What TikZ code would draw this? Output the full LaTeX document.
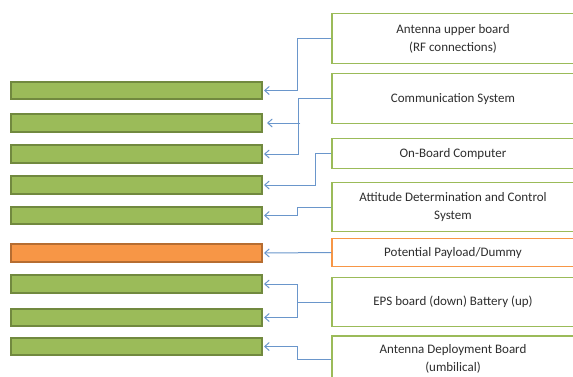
\documentclass[tikz,border=0pt]{standalone}
\usepackage{fontspec}
\setmainfont{Carlito}
\usetikzlibrary{arrows.meta}

\definecolor{barfill}{HTML}{9BBB59}
\definecolor{bardraw}{HTML}{71893F}
\definecolor{payfill}{HTML}{F79646}
\definecolor{paydraw}{HTML}{B66D31}
\definecolor{linkblue}{HTML}{6A96CB}
\definecolor{txt}{HTML}{2E2E2E}

\begin{document}
\begin{tikzpicture}[x=1pt,y=-1pt,>={Straight Barb[length=4.5pt,width=8pt]},shorten >=1pt,
    bar/.style={rectangle,draw=bardraw,fill=barfill,line width=2pt,
      minimum width=251pt,minimum height=17.5pt,inner sep=0pt},
    paybar/.style={bar,draw=paydraw,fill=payfill},
    board/.style={rectangle,draw=barfill,fill=white,line width=1.5pt,
      minimum width=242pt,inner sep=0pt,align=center,text=txt,
      font=\fontsize{13}{18}\selectfont},
    payboard/.style={board,draw=payfill},
    link/.style={draw=linkblue,line width=1pt}]

    \useasboundingbox (0,0) rectangle (573,376);

    % stack of boards on the left
    \node[bar] (b1) at (136.5,90.5) {};
    \node[bar] (b2) at (136.5,123) {};
    \node[bar] (b3) at (136.5,154) {};
    \node[bar] (b4) at (136.5,185) {};
    \node[bar] (b5) at (136.5,215.5) {};
    \node[paybar] (b6) at (136.5,253) {};
    \node[bar] (b7) at (136.5,284) {};
    \node[bar] (b8) at (136.5,317.5) {};
    \node[bar] (b9) at (136.5,346.5) {};

    % labels on the right
    \node[board,minimum height=50pt] (ant) at (453,38.5) {Antenna upper board\\(RF connections)};
    \node[board,minimum height=50pt] (com) at (453,98.5) {Communication System\strut};
    \node[board,minimum height=30pt] (obc) at (453,153.5) {On-Board Computer\strut};
    \node[board,minimum height=49pt] (adcs) at (453,207) {Attitude Determination and Control\\System};
    \node[payboard,minimum height=28pt] (pay) at (453,252.5) {Potential Payload/Dummy\strut};
    \node[board,minimum height=49pt] (eps) at (453,302) {EPS board (down) Battery (up)\strut};
    \node[board,minimum height=46pt] (adb) at (453,359) {Antenna Deployment Board\\(umbilical)};

    % connections
    \draw[link,->] (ant.west) -- ++(-34,0) |- (b1.east);
    \draw[link,->] (com.west) -- ++(-33,0) coordinate (comv) |- (b3.east);
    \draw[link,->,shorten >=4pt] ([xshift=2pt]comv |- b2.east) -- (b2.east);
    \draw[link,->] (obc.west) -- ++(-16,0) |- (b4.east);
    \draw[link,->] (adcs.west) -- ++(-34,0) |- (b5.east);
    \draw[link,->] (pay.west) -- (b6.east);
    \draw[link] (eps.west) -- ++(-34,0) coordinate (epsv);
    \draw[link,->] (epsv) |- (b7.east);
    \draw[link,->] (epsv) |- (b8.east);
    \draw[link,->] (adb.west) -- ++(-34,0) |- (b9.east);
\end{tikzpicture}
\end{document}
